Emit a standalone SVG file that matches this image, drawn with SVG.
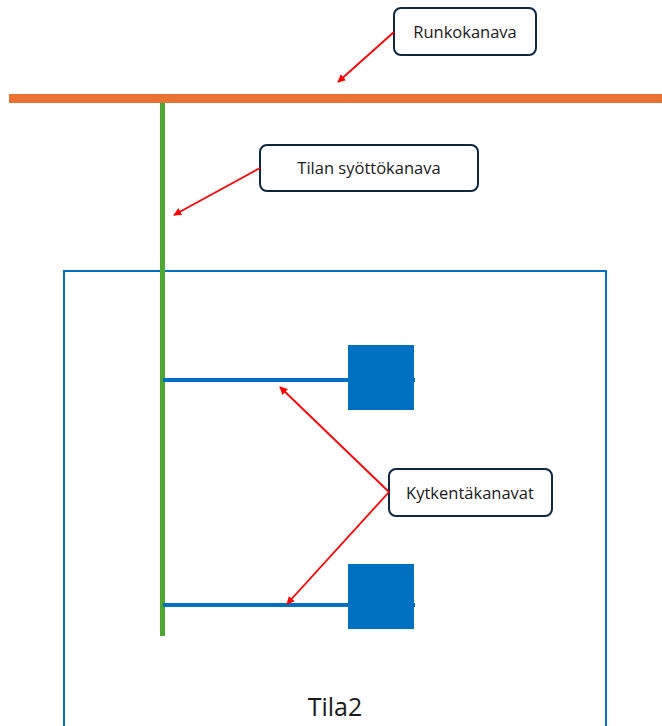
<svg xmlns="http://www.w3.org/2000/svg" width="662" height="726" viewBox="0 0 662 726">
  <style>
    .callout { fill: #ffffff; stroke: #0e2841; stroke-width: 2; }
    .label { font-family: "Open Sans", "Liberation Sans", sans-serif; font-size: 16.5px; fill: #1a1a1a; text-anchor: middle; }
    .leader { stroke: #ff0000; stroke-width: 1.8; fill: none; marker-end: url(#arrow); }
    .branch { stroke: #0070c0; stroke-width: 4; }
    .unit { fill: #0070c0; }
  </style>
  <defs>
    <marker id="arrow" viewBox="0 0 10 10" refX="9" refY="5" markerWidth="8" markerHeight="8" markerUnits="userSpaceOnUse" orient="auto">
      <path d="M0,0 L10,5 L0,10 z" fill="#ff0000"/>
    </marker>
  </defs>

  <!-- room outline -->
  <g id="tila2">
    <rect x="64" y="271" width="542" height="470" fill="none" stroke="#0070c0" stroke-width="2"/>
    <text x="335" y="716" font-family="Open Sans, Liberation Sans, sans-serif" font-size="25" fill="#1a1a1a" text-anchor="middle">Tila2</text>
  </g>

  <!-- main trunk duct -->
  <g id="runkokanava">
    <rect x="9" y="94" width="653" height="9" fill="#e97132"/>
  </g>

  <!-- room supply duct -->
  <g id="syottokanava">
    <rect x="160" y="103" width="5" height="533" fill="#4ea72e"/>
  </g>

  <!-- branch ducts with terminal units -->
  <g id="kytkenta1">
    <line class="branch" x1="163" y1="380" x2="415" y2="380"/>
    <rect class="unit" x="348" y="345" width="66" height="65"/>
  </g>
  <g id="kytkenta2">
    <line class="branch" x1="163" y1="605" x2="415" y2="605"/>
    <rect class="unit" x="348" y="564" width="66" height="65"/>
  </g>

  <!-- callouts -->
  <g id="label-runko">
    <rect class="callout" x="394" y="8" width="142" height="47" rx="7"/>
    <text class="label" x="465" y="38">Runkokanava</text>
  </g>
  <g id="label-syotto">
    <rect class="callout" x="260" y="145" width="218" height="46" rx="7"/>
    <text class="label" x="369" y="174">Tilan syöttökanava</text>
  </g>
  <g id="label-kytkenta">
    <rect class="callout" x="389" y="469" width="163" height="47" rx="7"/>
    <text class="label" x="470" y="499">Kytkentäkanavat</text>
  </g>

  <!-- leader arrows -->
  <g id="connectors">
    <line class="leader" x1="394" y1="32" x2="338" y2="82"/>
    <line class="leader" x1="260" y1="168" x2="174" y2="215"/>
    <line class="leader" x1="389" y1="492" x2="280" y2="387"/>
    <line class="leader" x1="389" y1="492" x2="287" y2="604"/>
  </g>
</svg>
